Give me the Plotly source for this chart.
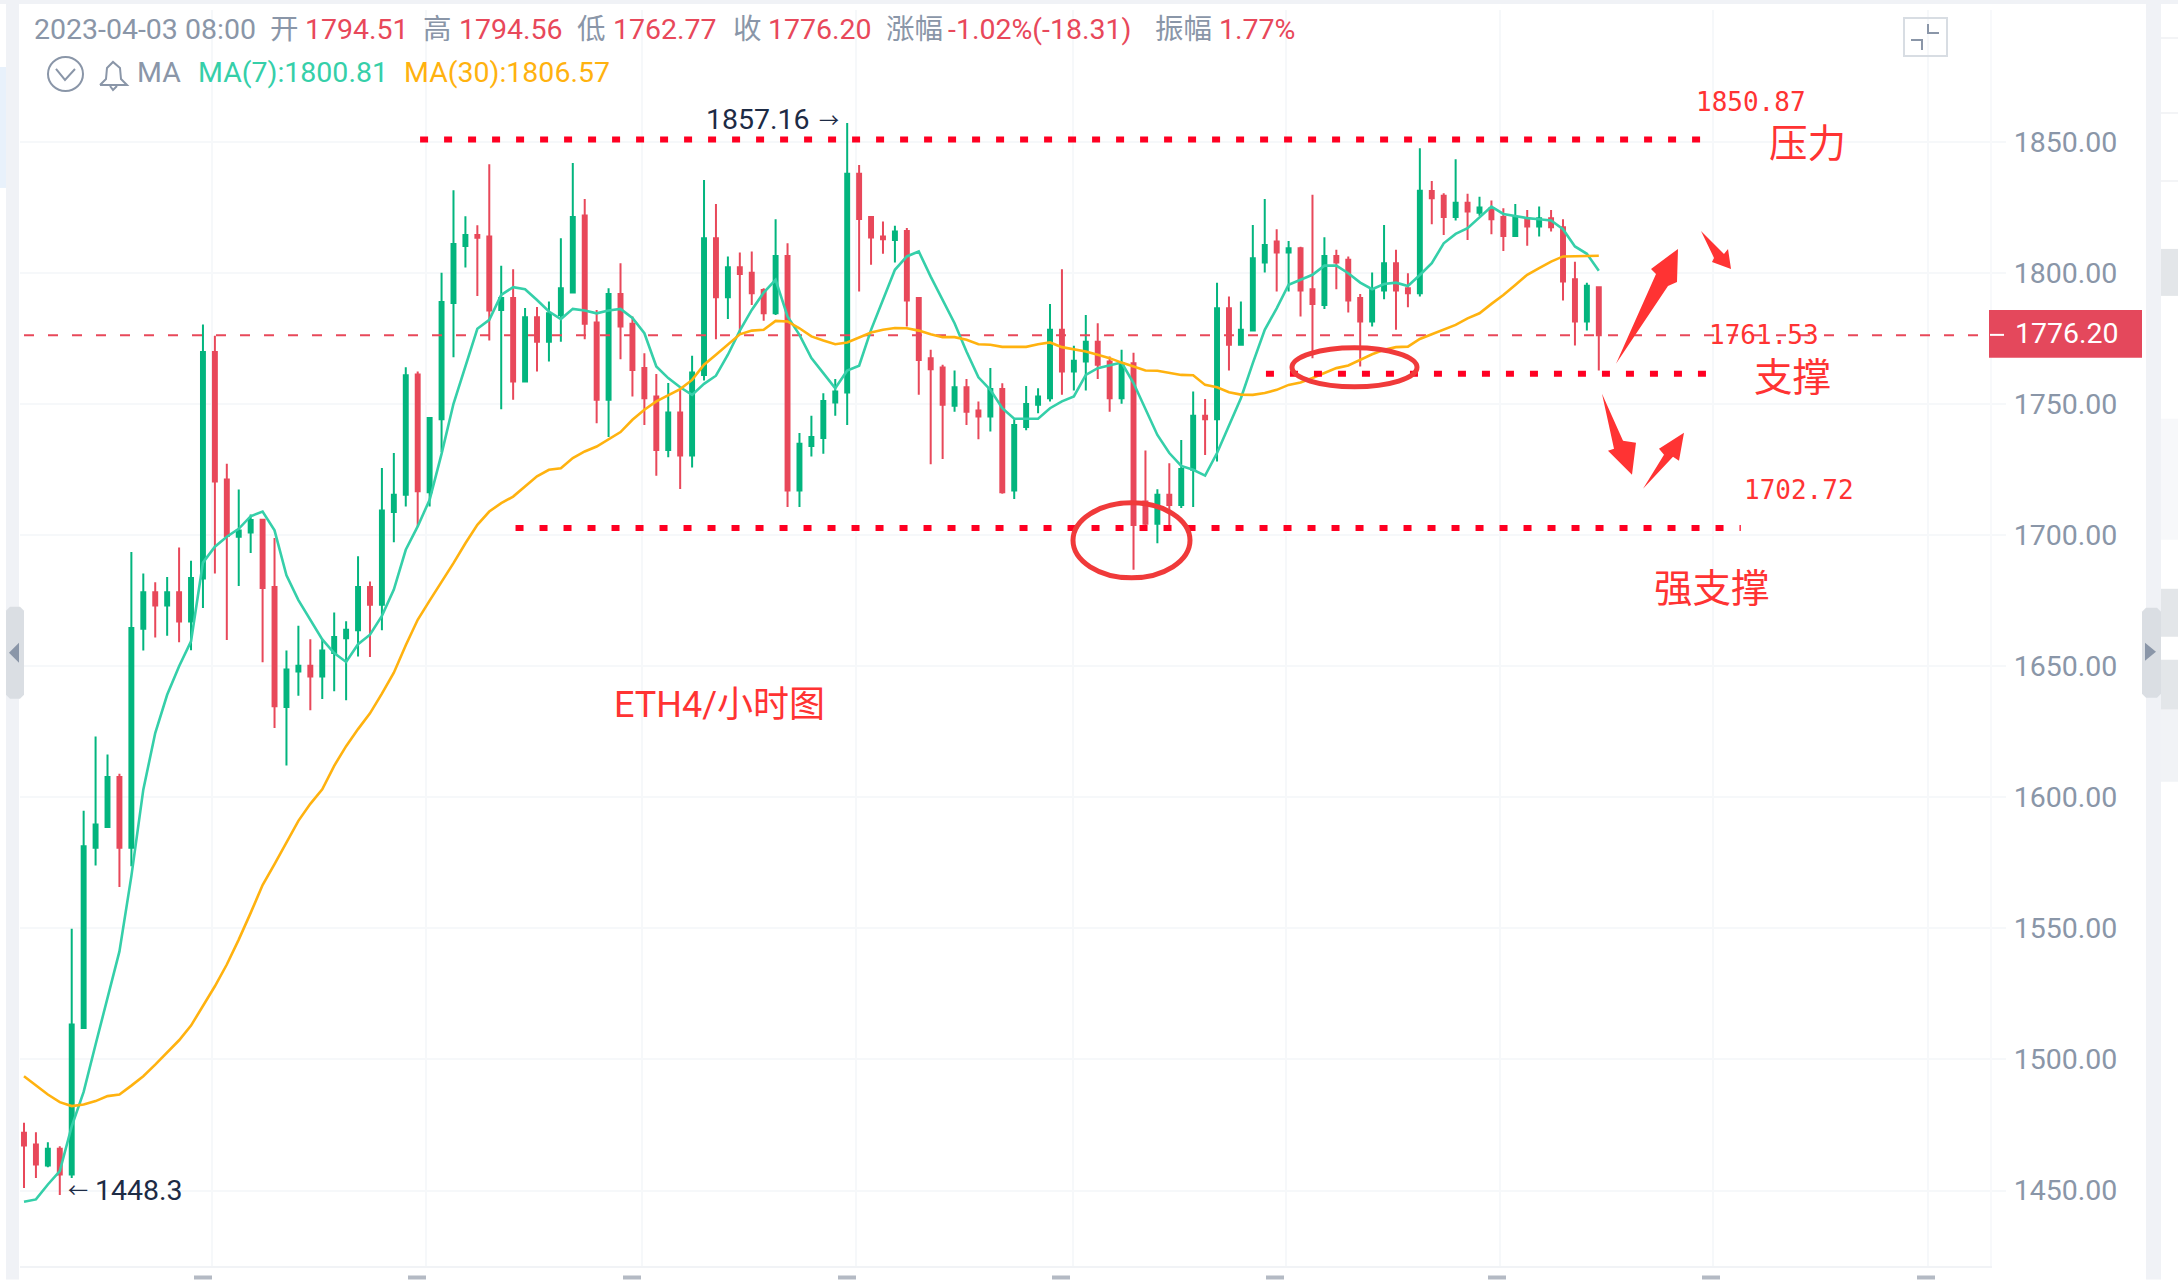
import plotly.graph_objects as go

# candles, 4h bars, oldest first
opens = [1472, 1467.5, 1459.5, 1465.9, 1456.1, 1512, 1580.7, 1588.7, 1607.7, 1580.7,
         1664.3, 1678.2, 1673.1, 1678.2, 1667, 1683.4, 1769.8, 1721.2, 1699.4, 1701,
         1705.9, 1680.2, 1634.4, 1648, 1650.2, 1646.1, 1655, 1660.7, 1663.7, 1680.2,
         1673.4, 1708.8, 1715.4, 1761.3, 1716.3, 1744.2, 1788.5, 1810.3, 1814.5, 1813.9,
         1785.9, 1790.4, 1758.6, 1783.1, 1773.8, 1784, 1792.5, 1821.9, 1781.1, 1751.6,
         1792, 1780.6, 1763.7, 1752.9, 1732.5, 1746.8, 1730.4, 1761.1, 1813.2, 1790.7,
         1802.2, 1800.1, 1793.5, 1784.6, 1806.5, 1717, 1734, 1737, 1750.6, 1754.4,
         1837.8, 1821.3, 1813.9, 1812.6, 1816, 1790.4, 1767.5, 1763.9, 1749.3, 1756.4,
         1747.5, 1745.2, 1755.7, 1717, 1741.2, 1749.7, 1752.2, 1778.3, 1762.4, 1766.2,
         1773.8, 1766.2, 1752.2, 1765.6, 1712.8, 1704.3, 1715.4, 1711.5, 1724.9, 1745.5,
         1744.2, 1786.5, 1772.6, 1778, 1804, 1812, 1807.8, 1809.4, 1793.8, 1787.8,
         1806.5, 1805, 1790.4, 1781.5, 1793.3, 1803.7, 1794.2, 1792.3, 1831.3, 1829.4,
         1821.3, 1826.8, 1823, 1824.7, 1821.3, 1814.1, 1820.9, 1817.7, 1820.9, 1817.4,
         1797.6, 1781.5, 1794.51]
closes = [1467.2, 1459.9, 1465.9, 1456.1, 1513.3, 1581.3, 1589.6, 1607.7, 1580.7, 1664.6,
          1678.2, 1673.1, 1678.2, 1667, 1683.6, 1769.8, 1720.4, 1699.7, 1701.8, 1705.8,
          1679.8, 1634.7, 1648.7, 1650.2, 1646.1, 1656, 1661.1, 1663.9, 1680.2, 1673.4,
          1709.4, 1715.4, 1761, 1716.7, 1744.7, 1788.9, 1811, 1814.5, 1813.4, 1785.7,
          1790.4, 1758.6, 1783.1, 1773.8, 1784.6, 1794.2, 1821.3, 1780.6, 1751.6, 1792,
          1779.6, 1763, 1752.2, 1732.5, 1746.8, 1730.4, 1762, 1813.2, 1790.7, 1802.2,
          1799.6, 1792.3, 1784.6, 1806.5, 1717, 1734.8, 1737.4, 1751.2, 1754.8, 1837.8,
          1820.6, 1813.5, 1812.9, 1815.8, 1789.5, 1766.8, 1763.3, 1749.7, 1756.4, 1747.1,
          1745.2, 1755.7, 1716.3, 1742, 1750, 1752.9, 1778.3, 1762.4, 1766.5, 1773.8,
          1765, 1752.2, 1765.6, 1703.9, 1704.3, 1715.4, 1711.5, 1725.2, 1745.5, 1744.2,
          1786.5, 1772.6, 1778.3, 1805.6, 1810.7, 1807.8, 1809.4, 1793.3, 1788.2, 1806.5,
          1804, 1789.5, 1781.5, 1793.8, 1803.7, 1793.3, 1792.3, 1831.4, 1828.5, 1821.3,
          1826.8, 1823.4, 1825, 1820.5, 1814.1, 1821.3, 1817.7, 1820.9, 1817.4, 1796.7,
          1781.5, 1795.1, 1776.2]
highs = [1475.8, 1472.2, 1468.4, 1466.9, 1549.8, 1594.9, 1623.2, 1616.3, 1609, 1693.6,
         1685.4, 1682, 1684, 1695.3, 1690.2, 1780.3, 1776, 1727.2, 1717.4, 1707.9,
         1706.1, 1698.9, 1656, 1665.4, 1660.3, 1660, 1670.5, 1667.1, 1691.9, 1682.3,
         1725.6, 1731.3, 1764, 1762.4, 1744.7, 1800.1, 1831.5, 1821.6, 1818.2, 1841.5,
         1802.7, 1801.4, 1786.6, 1787, 1789.1, 1813.2, 1841.9, 1828.2, 1785.9, 1794.2,
         1803.7, 1783.4, 1769.4, 1761.5, 1758, 1755.4, 1768.4, 1835.5, 1826.3, 1806.3,
         1807.8, 1808.2, 1794.2, 1820.5, 1811.3, 1738.9, 1745.5, 1754.1, 1759.5, 1857.16,
         1841.2, 1821.5, 1819.6, 1818, 1817.1, 1790.4, 1770.7, 1765, 1762.8, 1759.5,
         1751, 1763.7, 1757.9, 1744.2, 1756.9, 1756, 1788.2, 1801.4, 1772.2, 1784,
         1780.8, 1768.1, 1770.7, 1769.6, 1732.3, 1717.5, 1727.4, 1736.3, 1754.8, 1751.9,
         1796.3, 1791, 1789.1, 1818.3, 1828.2, 1816.7, 1812.2, 1810, 1829.8, 1813.6,
         1808.8, 1806.3, 1792, 1800.2, 1818.3, 1808.8, 1799.9, 1847.6, 1835.1, 1830.4,
         1843.4, 1830.2, 1829.1, 1827.6, 1824.7, 1826.3, 1824, 1825.3, 1824, 1820.5,
         1804.3, 1796.3, 1794.56]
lows = [1451, 1454.8, 1458.9, 1448.3, 1454.8, 1511.6, 1574, 1588.7, 1565.8, 1573.7,
        1656, 1660.9, 1661.6, 1659.1, 1656.1, 1672.2, 1685.4, 1660, 1680.6, 1693.2,
        1651.5, 1626.4, 1612.1, 1638.7, 1633.2, 1637.5, 1640.4, 1637, 1653.7, 1653.5,
        1663.7, 1697.3, 1710.9, 1703.1, 1710.9, 1731.7, 1767.8, 1802.1, 1791.2, 1774.2,
        1748, 1751.6, 1758.6, 1762.4, 1766.2, 1773.8, 1792.5, 1774.7, 1742.7, 1737.4,
        1767.1, 1752.9, 1742, 1722.6, 1729.7, 1717.6, 1725.8, 1759, 1774.7, 1782.4,
        1777, 1787.8, 1781.8, 1784, 1710.7, 1710.7, 1730, 1731, 1745.5, 1742,
        1792.9, 1803.1, 1807.3, 1804, 1779.6, 1753.5, 1727, 1729, 1747.1, 1742,
        1736.6, 1739.5, 1715.8, 1713.8, 1740, 1746.5, 1751, 1753.5, 1755.2, 1755.2,
        1759.5, 1747.1, 1750.1, 1686.8, 1702.6, 1696.9, 1703.9, 1710.3, 1710.7, 1730.6,
        1728.1, 1762.8, 1772.2, 1778, 1800.2, 1792.9, 1792.9, 1783.4, 1767.5, 1786.2,
        1793.8, 1784.9, 1764.3, 1779.6, 1790, 1778.3, 1786.9, 1791, 1818.6, 1814.5,
        1820, 1812.6, 1821.8, 1814.8, 1808.4, 1814.1, 1810.4, 1813.9, 1815.8, 1789.5,
        1772.3, 1778, 1762.77]

ma7 = [1445.7, 1446.6, 1452.3, 1457.4, 1474.5, 1487.6, 1505.7, 1523.2, 1541.2, 1569.9,
       1602.9, 1624.5, 1639.1, 1650, 1659.5, 1689.5, 1695.6, 1699.4, 1702.4, 1707.2,
       1709, 1701.8, 1684.7, 1675.2, 1667.7, 1660.2, 1655, 1651.6, 1658.4, 1662,
       1669.2, 1679.2, 1694.4, 1703.3, 1713.5, 1731, 1750.1, 1764.4, 1778.7, 1782.1,
       1791.6, 1794.6, 1793.8, 1789.7, 1785.3, 1782.4, 1786.3, 1785.7, 1784.6, 1785.7,
       1786.3, 1782.8, 1777, 1764.3, 1759.9, 1756.4, 1753.5, 1757.7, 1760.8, 1768.8,
       1778, 1785.9, 1792.5, 1797.4, 1783.4, 1776.4, 1767.5, 1761.8, 1756, 1762.8,
       1764.6, 1778.3, 1789.7, 1801.2, 1806.3, 1808.2, 1798.6, 1789.7, 1780.8, 1770,
       1760.2, 1755.4, 1748.4, 1744.4, 1744.4, 1744.4, 1748.4, 1751, 1752.9, 1761.1,
       1763.7, 1764.7, 1765.8, 1758, 1748.4, 1738.2, 1731.3, 1726.4, 1724.9, 1722.7,
       1731.3, 1742, 1752.2, 1765.6, 1778.3, 1786.5, 1795.5, 1797.4, 1799.3, 1802.8,
       1802.8, 1799.9, 1796.3, 1793.8, 1795.8, 1796.3, 1795, 1799.2, 1803.7, 1811.3,
       1814.9, 1817.1, 1821.3, 1825.3, 1822.5, 1821.8, 1820.9, 1820.5, 1820, 1816.7,
       1810.1, 1807.3, 1800.81]
ma30 = [1493.6, 1490, 1486.6, 1483.7, 1482.2, 1482.8, 1484.1, 1486, 1486.6, 1490,
        1493.6, 1498, 1502.5, 1507.3, 1512.9, 1520.3, 1527.9, 1536.2, 1545.7, 1555.9,
        1566.5, 1574.5, 1583, 1591, 1597.5, 1603, 1612, 1619.5, 1626, 1632,
        1639.5, 1647.5, 1658, 1667.7, 1675, 1682, 1689.3, 1696.9, 1703.9, 1709,
        1712.2, 1714.7, 1718.5, 1722.4, 1724.9, 1725.5, 1729.4, 1731.9, 1733.8, 1736.7,
        1739.3, 1744, 1747.8, 1751, 1753.5, 1755.7, 1759.2, 1765, 1768.8, 1772.6,
        1776.6, 1778, 1778.3, 1781.7, 1781.5, 1778.9, 1775.8, 1774.2, 1772.8, 1773.5,
        1775.5, 1777.3, 1778.3, 1779, 1778.9, 1778, 1776.6, 1775.5, 1775.5, 1774.5,
        1772.8, 1772.6, 1771.8, 1771.8, 1771.8, 1772.8, 1773.5, 1771.7, 1770.9, 1770,
        1768.8, 1767.5, 1765.8, 1764.3, 1762.8, 1762.7, 1761.8, 1761.1, 1761, 1757.3,
        1756.4, 1754.5, 1753.6, 1753.5, 1754.2, 1755.4, 1757.3, 1758.2, 1759.9, 1761.8,
        1763.7, 1764.7, 1766.9, 1769, 1770.7, 1771.7, 1771.9, 1774.8, 1776.6, 1778.3,
        1780.2, 1782.7, 1784.6, 1788.2, 1791.6, 1795.4, 1799.3, 1801.8, 1804.3, 1806.3,
        1806.4, 1806.5, 1806.57]

price_ticks = [1450, 1500, 1550, 1600, 1650, 1700, 1750, 1800, 1850]
price_labels = ["1450.00", "1500.00", "1550.00", "1600.00", "1650.00", "1700.00", "1750.00", "1800.00", "1850.00"]
time_ticks = [15.76, 33.7, 51.8, 69.7, 87.9, 105.8, 123.7, 141.6, 159.6]

last_price = 1776.2
pressure = 1850.87
support = 1761.53
strong_support = 1702.72

W, H = 2178, 1280
L, R, T, B = 20, 188, 10, 13.5
RED = "#ff3333"
GREY = "#8a96a8"
FONT = "Roboto, 'Noto Sans CJK SC', sans-serif"
MONO = "'DejaVu Sans Mono', monospace"
TXT = 28.5
CJK = 38.5


def px(x):
    return (x - L) / (W - L - R)


def py(y):
    return 1 - (y - T) / (H - T - B)


def rect(x0, y0, x1, y1, color, layer="below"):
    return dict(type="rect", xref="paper", yref="paper", x0=px(x0), x1=px(x1), y0=py(y0), y1=py(y1),
                fillcolor=color, line_width=0, layer=layer)


def poly(points, color="", line=None, close=True):
    path = "M" + " L".join(f"{px(a):.5f},{py(b):.5f}" for a, b in points) + (" Z" if close else "")
    return dict(type="path", xref="paper", yref="paper", path=path, fillcolor=color or "rgba(0,0,0,0)",
                line=dict(color=line or color, width=2 if line else 0), layer="above")


def handle(x0, y0, x1, y1, color):
    # grey tab with cut corners, same look as the rounded ones on the page
    r = 4
    return poly([(x0 + r, y0), (x1 - r, y0), (x1, y0 + r), (x1, y1 - r), (x1 - r, y1),
                 (x0 + r, y1), (x0, y1 - r), (x0, y0 + r)], color)


def oval(x0, y0, x1, y1, color, width):
    return dict(type="circle", xref="paper", yref="paper", x0=px(x0), x1=px(x1), y0=py(y0), y1=py(y1),
                line=dict(color=color, width=width), layer="above")


def label(text, x, y, size, color, family=FONT, anchor="left"):
    return dict(text=text, x=px(x), y=py(y), xref="paper", yref="paper", xanchor=anchor, yanchor="middle",
                showarrow=False, borderpad=0, font=dict(size=size, color=color, family=family))


bars = list(range(len(closes)))

fig = go.Figure()

fig.add_trace(go.Candlestick(
    x=bars, open=opens, high=highs, low=lows, close=closes, whiskerwidth=0,
    increasing=dict(line=dict(color="#03b57e", width=2), fillcolor="#03b57e"),
    decreasing=dict(line=dict(color="#e8485a", width=2), fillcolor="#e8485a"),
    showlegend=False, hoverinfo="skip"))

# last price line
fig.add_trace(go.Scatter(x=[0, 164.8], y=[last_price, last_price], mode="lines",
                         line=dict(color="#e8485a", width=2, dash="10px,14px"), showlegend=False, hoverinfo="skip"))

fig.add_trace(go.Scatter(x=bars, y=ma7, mode="lines", line=dict(color="#35cfa9", width=2.6),
                         showlegend=False, hoverinfo="skip"))
fig.add_trace(go.Scatter(x=bars, y=ma30, mode="lines", line=dict(color="#ffb20f", width=2.6),
                         showlegend=False, hoverinfo="skip"))

# hand drawn levels
for start, end, level in [(33.2, 141.2, pressure), (104.1, 141.3, support), (41.2, 143.9, strong_support)]:
    fig.add_trace(go.Scatter(x=[start, end], y=[level, level], mode="lines",
                             line=dict(color="#ff0022", width=6, dash="8px,16px"),
                             showlegend=False, hoverinfo="skip"))

shapes = [
    # page furniture around the chart
    rect(0, 0, W, 4, "#f0f2f6"),
    rect(0, 67, 7, 188, "#e8f1fb"),
    rect(6, 0, 19, H, "#f0f2f6"),
    rect(2146, 0, 2161, H, "#f0f2f6"),
    rect(2161, 37, W, 39, "#f3f4f6"),
    rect(2161, 112, W, 114, "#f3f4f6"),
    rect(2161, 180, W, 182, "#f3f4f6"),
    rect(2161, 249, W, 296, "#e3e6e9"),
    rect(2161, 419, W, 540, "#f7f8fa"),
    rect(2161, 589, W, 637, "#e3e6e9"),
    rect(2161, 660, W, 710, "#e3e6e9"),
    rect(2161, 710, W, 782, "#f1f3f6"),
    handle(6, 607, 24, 699, "#dadee3"),
    handle(2142, 608, 2161, 698, "#dadee3"),
    poly([(9, 653), (19, 643), (19, 663)], "#8a96a8"),
    poly([(2145, 643), (2156, 652), (2145, 661)], "#8a96a8"),
    # price tag
    rect(1989, 310, 2142, 358, "#e4485c", "above"),
    rect(1990, 334, 2004, 336, "#ffffff", "above"),
    # expand button
    dict(type="rect", xref="paper", yref="paper", x0=px(1904), x1=px(1947), y0=py(18), y1=py(56),
         fillcolor="rgba(0,0,0,0)", line=dict(color="#d8dde3", width=2), layer="above"),
    poly([(1928, 24), (1928, 33), (1939, 33)], line=GREY, close=False),
    poly([(1911, 40), (1922, 40), (1922, 50)], line=GREY, close=False),
    # legend icons
    oval(48, 57, 83, 91, GREY, 2),
    poly([(56, 69), (65, 80), (75, 69)], line=GREY, close=False),
    poly([(100, 85), (106, 79), (107, 68), (113, 62), (120, 68), (121, 79), (127, 85), (100, 85)], line=GREY, close=False),
    poly([(110, 86), (113, 90), (117, 86)], line=GREY, close=False),
    # circled wicks
    oval(1073, 503, 1190, 578, "#f03a3a", 5),
    oval(1292, 348, 1417, 387, "#f03a3a", 5),
    # arrows
    poly([(1616, 364), (1656, 274), (1651, 269), (1678, 249), (1677, 282), (1668, 286)], RED),
    poly([(1701, 231), (1724, 254), (1728, 249), (1731, 269), (1712, 262), (1714, 258)], RED),
    poly([(1602, 394), (1623, 441), (1636, 443), (1632, 475), (1608, 451), (1614, 449)], RED),
    poly([(1643, 489), (1664, 455), (1659, 449), (1684, 433), (1679, 461), (1673, 457)], RED),
]

# cut off date labels along the bottom edge
for centre in [203, 417, 632, 847, 1061, 1275, 1497, 1711, 1926]:
    shapes.append(rect(centre - 9, 1276, centre + 9, H, "#b4bac4"))

notes = [
    label("2023-04-03 08:00", 33, 30, TXT, GREY),
    label("开", 269, 30, TXT, GREY),
    label("1794.51", 304, 30, TXT, "#e8485a"),
    label("高", 422, 30, TXT, GREY),
    label("1794.56", 458, 30, TXT, "#e8485a"),
    label("低", 576, 30, TXT, GREY),
    label("1762.77", 612, 30, TXT, "#e8485a"),
    label("收", 732, 30, TXT, GREY),
    label("1776.20", 767, 30, TXT, "#e8485a"),
    label("涨幅", 885, 30, TXT, GREY),
    label("-1.02%(-18.31)", 947, 30, TXT, "#e8485a"),
    label("振幅", 1154, 30, TXT, GREY),
    label("1.77%", 1218, 30, TXT, "#e8485a"),
    label("MA", 136, 73, TXT, GREY),
    label("MA(7):1800.81", 197, 73, TXT, "#35cfa9"),
    label("MA(30):1806.57", 403, 73, TXT, "#ffb20f"),
    label("1857.16", 705, 120, TXT, "#1d2b45"),
    label("→", 818, 121, 20, "#1d2b45"),
    label("←", 67, 1191, 20, "#1d2b45"),
    label("1448.3", 94, 1191, TXT, "#1d2b45"),
    label("1850.87", 1695, 102, 26, RED, MONO),
    label("压力", 1768, 144, CJK, RED),
    label("1761.53", 1708, 335, 26, RED, MONO),
    label("支撑", 1753, 378, CJK, RED),
    label("1702.72", 1743, 490, 26, RED, MONO),
    label("强支撑", 1653, 589, CJK, RED),
    label("ETH4/小时图", 613, 705, 36, RED),
    label("1776.20", 2014, 334, TXT, "#ffffff"),
]

fig.update_layout(
    width=W, height=H, autosize=False,
    margin=dict(l=L, r=R, t=T, b=B),
    paper_bgcolor="#ffffff", plot_bgcolor="#ffffff",
    boxgap=0.53, showlegend=False,
    shapes=shapes, annotations=notes,
    font=dict(family=FONT),
)
fig.update_xaxes(range=[-0.335, 164.79], rangeslider_visible=False, tickvals=time_ticks, showticklabels=False,
                 showgrid=True, gridcolor="#f6f8fa", gridwidth=2, zeroline=False, ticks="",
                 showline=True, linecolor="#f1f3f6", linewidth=2)
fig.update_yaxes(range=[1421.2, 1900.3], side="right", tickvals=price_ticks, ticktext=price_labels,
                 tickfont=dict(size=TXT, color=GREY, family=FONT), showgrid=True, gridcolor="#f6f8fa", gridwidth=2,
                 zeroline=False, ticks="outside", ticklen=14, tickcolor="#f6f8fa", tickwidth=2,
                 ticklabelstandoff=2, showline=True, linecolor="#f8f9fb", linewidth=2)

fig.write_html("out.html", config={"displayModeBar": False}, post_script="document.body.style.margin='0';")
